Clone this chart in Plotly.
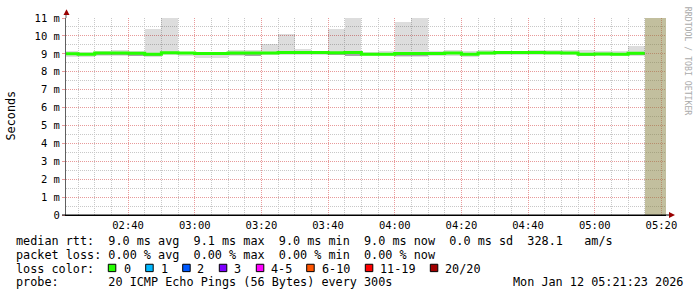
import plotly.graph_objects as go

# ---------------- data ----------------
day = "2026-01-12"
bin_starts = ["02:20", "02:25", "02:30", "02:35", "02:40", "02:45", "02:50", "02:55",
              "03:00", "03:05", "03:10", "03:15", "03:20", "03:25", "03:30", "03:35",
              "03:40", "03:45", "03:50", "03:55", "04:00", "04:05", "04:10", "04:15",
              "04:20", "04:25", "04:30", "04:35", "04:40", "04:45", "04:50", "04:55",
              "05:00", "05:05", "05:10"]
unknown_starts = ["05:15", "05:20"]
series_end = "05:15"

median_ms = [9.01, 8.98, 9.04, 9.05, 9.03, 8.98, 9.06, 9.04, 9.02, 9.02,
             9.04, 9.04, 9.05, 9.07, 9.08, 9.07, 9.06, 9.07, 8.98, 8.97,
             9.02, 9.02, 9.02, 9.04, 8.98, 9.05, 9.07, 9.07, 9.07, 9.06,
             9.05, 8.98, 8.99, 8.98, 9.03]
max_ms = [9.13, 9.09, 9.18, 9.22, 9.18, 10.39, 11.30, 9.12, 9.11, 9.11,
          9.20, 9.22, 9.57, 10.12, 9.29, 9.18, 10.41, 11.30, 9.12, 9.13,
          10.78, 11.30, 9.13, 9.20, 9.16, 9.20, 9.18, 9.18, 9.22, 9.22,
          9.22, 9.20, 9.16, 9.16, 9.42]
min_ms = [8.84, 8.82, 8.89, 8.89, 8.87, 8.80, 8.93, 8.89, 8.76, 8.76,
          8.87, 8.87, 8.91, 8.93, 8.93, 8.93, 8.91, 8.87, 8.87, 8.87,
          8.83, 8.83, 8.87, 8.89, 8.85, 8.91, 8.91, 8.91, 8.93, 8.93,
          8.91, 8.87, 8.87, 8.87, 8.89]
inner_lo_ms = [8.94, 8.92, 8.96, 8.96, 8.88, 8.86, 8.98, 8.97, 8.95, 8.95,
               8.96, 8.90, 8.98, 9.00, 9.01, 9.00, 8.93, 8.90, 8.92, 8.91,
               8.90, 8.90, 8.96, 8.97, 8.91, 8.98, 9.00, 9.00, 9.00, 8.99,
               8.98, 8.90, 8.91, 8.91, 8.96]
inner_hi_ms = [9.07, 9.03, 9.09, 9.09, 9.07, 9.02, 9.10, 9.08, 9.06, 9.06,
               9.08, 9.08, 9.10, 9.12, 9.12, 9.11, 9.10, 9.11, 9.02, 9.01,
               9.06, 9.06, 9.07, 9.09, 9.02, 9.09, 9.11, 9.11, 9.11, 9.10,
               9.09, 9.02, 9.03, 9.02, 9.08]

y_tick_vals = [0, 1, 2, 3, 4, 5, 6, 7, 8, 9, 10, 11]
y_tick_text = ["0", "1 m", "2 m", "3 m", "4 m", "5 m", "6 m", "7 m", "8 m", "9 m", "10 m", "11 m"]
y_top = 11

line_rtt = "median rtt:  9.0 ms avg  9.1 ms max  9.0 ms min  9.0 ms now  0.0 ms sd  328.1   am/s"
line_loss = "packet loss: 0.00 % avg  0.00 % max  0.00 % min  0.00 % now"
line_probe = "probe:       20 ICMP Echo Pings (56 Bytes) every 300s"
stamp = "Mon Jan 12 05:21:23 2026"
loss_labels = ["0", "1", "2", "3", "4-5", "6-10", "11-19", "20/20"]
loss_colors = ["#26ff00", "#00b8ff", "#0059ff", "#7e00ff", "#ff00ff", "#ff5500", "#ff0000", "#a10000"]

# ---------------- figure ----------------
W, H = 697, 297
L, R, T, B = 66, 31, 15, 82
PW, PH = W - L - R, H - T - B
MONO = "DejaVu Sans Mono"


def px(xp):
    return (xp - L) / PW


def py(yp):
    return (T + PH - yp) / PH


def ts(t):
    return f"{day} {t}:00"


xs = [ts(t) for t in bin_starts]
BIN_MS = 300000

fig = go.Figure()
fig.add_trace(go.Bar(x=xs, base=min_ms, y=[a - b for a, b in zip(max_ms, min_ms)],
                     width=BIN_MS, offset=0, marker=dict(color="rgba(0,0,0,0.135)", line_width=0),
                     hoverinfo="skip"))
fig.add_trace(go.Bar(x=xs, base=inner_lo_ms, y=[a - b for a, b in zip(inner_hi_ms, inner_lo_ms)],
                     width=BIN_MS, offset=0, marker=dict(color="rgba(0,0,0,0.25)", line_width=0),
                     hoverinfo="skip"))
fig.add_trace(go.Bar(x=[ts(t) for t in unknown_starts], base=[0] * len(unknown_starts),
                     y=[y_top] * len(unknown_starts), width=BIN_MS, offset=0,
                     marker=dict(color="rgba(133,127,61,0.5)", line_width=0), hoverinfo="skip"))
fig.add_trace(go.Scatter(x=xs + [ts(series_end)], y=median_ms + [median_ms[-1]],
                         mode="lines", line=dict(color=loss_colors[0], width=3, shape="hv"),
                         hoverinfo="skip"))

major_grid = "#e89a9a"
minor_grid = "#c8c8c8"
dash = "1px,1px"

fig.update_layout(
    width=W, height=H, margin=dict(l=L, r=R, t=T, b=B),
    paper_bgcolor="white", plot_bgcolor="white", showlegend=False,
    barmode="overlay", bargap=0,
    font=dict(family=MONO, size=10.5, color="black"),
    xaxis=dict(type="date", range=[f"{day} 02:21:23", f"{day} 05:21:23"],
               tickformat="%H:%M", dtick=1200000, tick0=f"{day} 00:00:00",
               showgrid=True, gridcolor=major_grid, griddash=dash, gridwidth=1,
               minor=dict(dtick=BIN_MS, tick0=f"{day} 00:00:00", showgrid=True,
                          gridcolor=minor_grid, griddash=dash, gridwidth=1),
               showline=True, linecolor="black", linewidth=1, zeroline=False,
               ticks="", tickfont=dict(family=MONO, size=10.5)),
    yaxis=dict(range=[0, y_top], tickvals=y_tick_vals, ticktext=y_tick_text,
               showgrid=True, gridcolor=major_grid, griddash=dash, gridwidth=1,
               minor=dict(dtick=0.5, showgrid=True, gridcolor=minor_grid, griddash=dash),
               showline=True, linecolor="#606060", linewidth=1, zeroline=False,
               ticks="outside", ticklen=3, tickcolor=major_grid,
               tickfont=dict(family=MONO, size=10.5)),
)

shapes = []
# axis extensions and arrows
shapes.append(dict(type="line", xref="paper", yref="paper", x0=px(66), x1=px(66), y0=1, y1=py(10),
                   line=dict(color="#606060", width=1)))
shapes.append(dict(type="line", xref="paper", yref="paper", x0=px(62), x1=px(670), y0=0, y1=0,
                   line=dict(color="black", width=1)))
shapes.append(dict(type="path", xref="paper", yref="paper",
                   path=f"M {px(66.5)},{py(6)} L {px(63.5)},{py(12)} L {px(69.5)},{py(12)} Z",
                   fillcolor="#990000", line=dict(width=0)))
shapes.append(dict(type="path", xref="paper", yref="paper",
                   path=f"M {px(675)},{py(215)} L {px(669)},{py(212)} L {px(669)},{py(218)} Z",
                   fillcolor="#990000", line=dict(width=0)))

ann = []
TXT = 11.8


def text(x, y, s, size=TXT, color="black", anchor="left", angle=0):
    ann.append(dict(xref="paper", yref="paper", x=px(x), y=py(y), text=s, showarrow=False,
                    xanchor=anchor, yanchor="middle", borderpad=0, borderwidth=0, textangle=angle,
                    font=dict(family=MONO, size=size, color=color)))


text(16, 241.5, line_rtt.replace(" ", "&nbsp;"))
text(16, 255.5, line_loss.replace(" ", "&nbsp;"))
text(16, 269.5, "loss&nbsp;color:")
text(16, 283.5, line_probe.replace(" ", "&nbsp;"))
text(513, 283.5, stamp.replace(" ", "&nbsp;"))

box_x = [108.3, 145.7, 182.7, 219.3, 256.3, 306.7, 365.3, 430.3]
lab_x = [124, 160.7, 197.3, 234.3, 271, 321.7, 380, 445.3]
for bx, lx, lab, col in zip(box_x, lab_x, loss_labels, loss_colors):
    shapes.append(dict(type="rect", xref="paper", yref="paper", x0=px(bx), x1=px(bx + 7.5),
                       y0=py(272.5), y1=py(265), fillcolor=col, line=dict(color="black", width=1)))
    text(lx, 269.5, lab)

text(11, 114, "Seconds", anchor="center", angle=-90)
text(687.5, 59, "RRDTOOL&nbsp;/&nbsp;TOBI&nbsp;OETIKER", size=8.2, color="#aaaaaa", anchor="center", angle=90)

fig.update_layout(shapes=shapes, annotations=ann)
fig.write_html("out.html")
